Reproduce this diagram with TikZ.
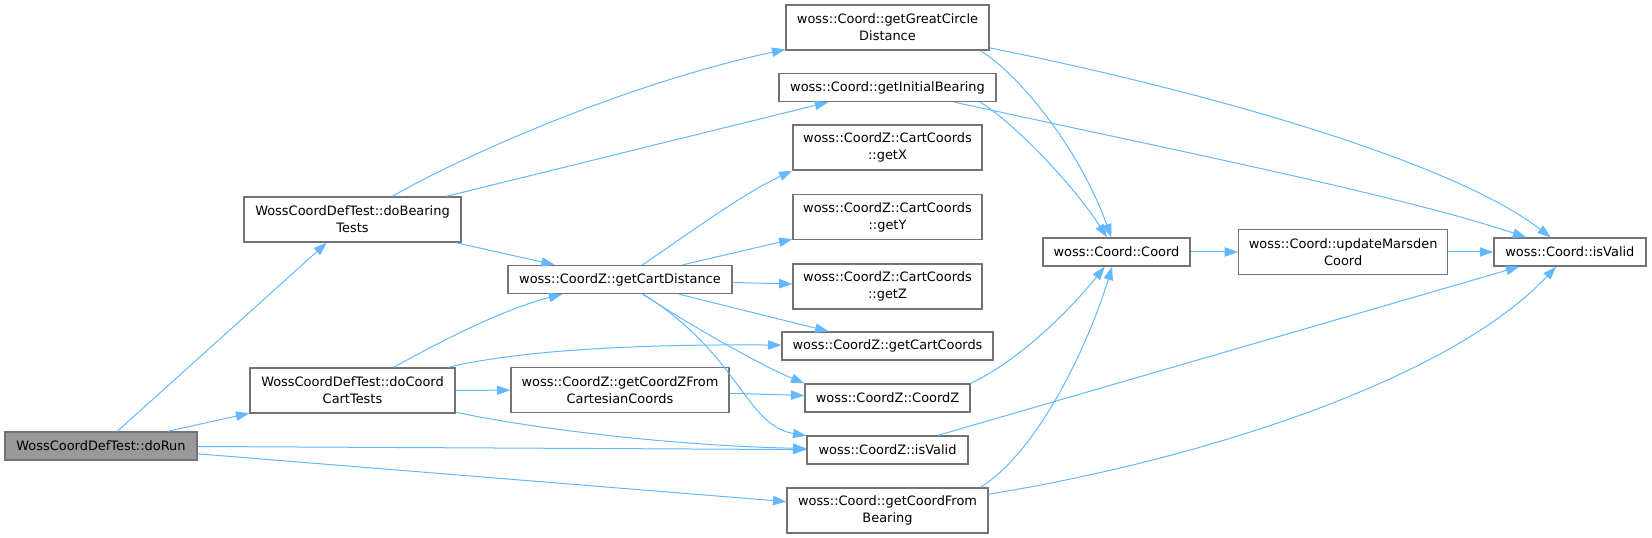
\documentclass[tikz,border=0pt]{standalone}
\usepackage{fontspec}
\setmainfont{DejaVu Sans}
\usetikzlibrary{arrows.meta}
\definecolor{edgeblue}{HTML}{63B8FF}
\definecolor{boxgray}{HTML}{737373}
\definecolor{rootgray}{HTML}{999999}

\begin{document}
\begin{tikzpicture}[x=0.75pt,y=-0.75pt,node distance=170pt,
	fn/.style={draw=boxgray,line width=1pt,fill=white,align=center,inner sep=0pt,
		font=\fontsize{9.7}{12.75}\selectfont,minimum height=21pt},
	fn2/.style={fn,minimum height=33.75pt},
	root/.style={fn,fill=rootgray},
	callarrow/.style={draw,edgeblue,line width=0.75pt,-{Triangle[length=10pt,width=7pt]}}]
	\useasboundingbox (0,0) rectangle (1652,538);

	\node(drun)[root,minimum width=144pt] at (101,446){WossCoordDefTest::doRun};
	\node(bear)[fn2,minimum width=162.75pt] at (352.5,219.5){WossCoordDefTest::doBearing\\Tests};
	\node(cart)[fn2,minimum width=153.75pt] at (352.5,390.5){WossCoordDefTest::doCoord\\CartTests};
	\node(cdist)[fn,minimum width=168pt] at (620,279.5){woss::CoordZ::getCartDistance};
	\node(czfc)[fn2,minimum width=163.5pt] at (620,390){woss::CoordZ::getCoordZFrom\\CartesianCoords};
	\node(gcd)[fn2,minimum width=152.25pt] at (887.5,27.5){woss::Coord::getGreatCircle\\Distance};
	\node(ib)[fn,minimum width=162.75pt] at (887.5,87.5){woss::Coord::getInitialBearing};
	\node(getx)[fn2,minimum width=141.75pt] at (887.5,147.5){woss::CoordZ::CartCoords\\::getX};
	\node(gety)[fn2,minimum width=141.75pt] at (887.5,217){woss::CoordZ::CartCoords\\::getY};
	\node(getz)[fn2,minimum width=141.75pt] at (887.5,286.5){woss::CoordZ::CartCoords\\::getZ};
	\node(gcc)[fn,minimum width=158.25pt] at (887.5,346){woss::CoordZ::getCartCoords};
	\node(czc)[fn,minimum width=123.75pt] at (887.5,398){woss::CoordZ::CoordZ};
	\node(czvalid)[fn,minimum width=120.75pt] at (887.5,450){woss::CoordZ::isValid};
	\node(cfb)[fn2,minimum width=150.75pt] at (887.5,510.5){woss::Coord::getCoordFrom\\Bearing};
	\node(crd)[fn,minimum width=110.25pt] at (1116.5,252){woss::Coord::Coord};
	\node(umc)[fn2,minimum width=156.75pt,right of=crd]{woss::Coord::updateMarsden\\Coord};
	\node(cvalid)[fn,minimum width=114pt,right of=umc]{woss::Coord::isValid};

	\path[callarrow] (drun) edge (bear)
		(drun) edge (cart)
		(drun) edge (czvalid)
		(drun) edge (cfb.175)
		(bear) edge (ib)
		(bear) edge (cdist)
		(cart) edge (czfc)
		(cdist) edge (gety)
		(cdist) edge (getz)
		(cdist) edge (gcc)
		(czfc) edge (czc)
		(czvalid) edge (cvalid)
		(crd) edge (umc)
		(umc) edge (cvalid);

	\draw[callarrow] (bear) .. controls (455,160) and (620,85) .. (gcd);
	\draw[callarrow] (cart) .. controls (430,347) and (500,310) .. (cdist);
	\draw[callarrow] (cart) .. controls (520,350) and (640,344) .. (gcc);
	\draw[callarrow] (cart) .. controls (540,430) and (680,446) .. (czvalid);
	\draw[callarrow] (cdist) .. controls (680,240) and (740,195) .. (getx.south west);
	\draw[callarrow] (cdist) .. controls (690,325) and (760,365) .. (czc.north west);
	\draw[callarrow] (cdist) .. controls (740,355) and (745,425) .. (czvalid);
	\draw[callarrow] (gcd.-14) .. controls (1020,75) and (1080,150) .. (crd);
	\draw[callarrow] (gcd) .. controls (1200,90) and (1450,160) .. (cvalid);
	\draw[callarrow] (ib.-9) .. controls (1010,120) and (1070,180) .. (crd);
	\draw[callarrow] (ib) .. controls (1150,145) and (1400,195) .. (cvalid);
	\draw[callarrow] (czc.north east) .. controls (1020,360) and (1070,310) .. (crd);
	\draw[callarrow] (cfb.14) .. controls (1040,450) and (1090,340) .. (crd);
	\draw[callarrow] (cfb) .. controls (1200,460) and (1450,380) .. (cvalid);
\end{tikzpicture}
\end{document}
